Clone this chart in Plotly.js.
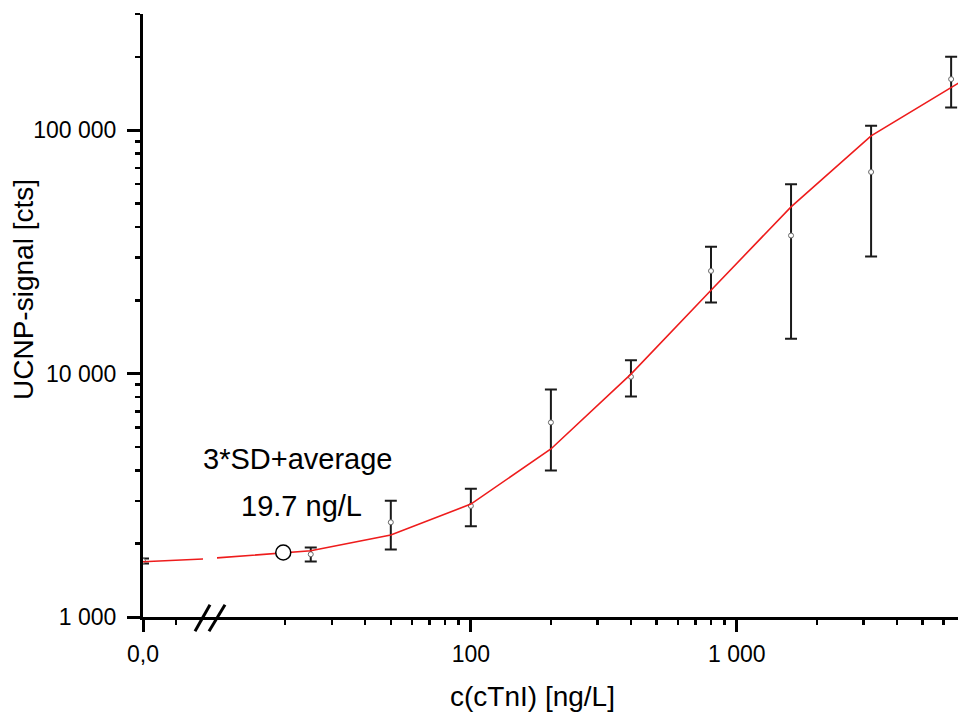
<!DOCTYPE html>
<html>
<head>
<meta charset="utf-8">
<script src="https://cdn.plot.ly/plotly-3.0.1.min.js"></script>
<style>html,body{margin:0;padding:0;background:#fff;}#chart{width:958px;height:722px;}</style>
</head>
<body>
<div id="chart"></div>
<script>
// Measured standards: concentration [ng/L], mean UCNP signal [cts], standard deviation
const conc   = [0,    25,   50,   100,  200,  400,  800,   1600,  3200,  6400];
const signal = [1700, 1810, 2450, 2860, 6300, 9700, 26400, 36900, 67300, 162000];
const sd     = [40,   118,  555,  500,  2300, 1650, 6800,  23000, 37000, 38000];

// Fitted calibration curve
const fitConc   = [0,    10,   19.7, 25,   50,   100,  200,  400,  800,   1600,  3200,  6400,   6820];
const fitSignal = [1686, 1735, 1840, 1870, 2170, 2910, 4900, 9950, 22000, 48400, 94700, 149600, 156000];

// Limit of detection (3*SD + average)
const lodConc = [19.7];
const lodSignal = [1840];

// Axis ticks
const yTickVals = [1000, 10000, 100000];
const yTickText = ['1 000', '10 000', '100 000'];
const yMinorVals = [2000,3000,4000,5000,6000,7000,8000,9000,
                    20000,30000,40000,50000,60000,70000,80000,90000,200000,300000];
const xLeftTickVals = [0];
const xLeftTickText = ['0,0'];
const xLeftMinor = [5];
const xTickVals = [100, 1000];
const xTickText = ['100', '1 000'];
const xMinorVals = [20,30,40,50,60,70,80,90,200,300,400,500,600,700,800,900,2000,3000,4000,5000,6000];

const FONT = 'Liberation Sans, Arial, Helvetica, sans-serif';
const red = '#ee1c1c';

const leftIdx = fitConc.map((v,i)=>i).filter(i => fitConc[i] <= 10);
const rightIdx = fitConc.map((v,i)=>i).filter(i => fitConc[i] >= 10);

const errStyle = {type:'data', visible:true, thickness:2, width:6, color:'#1a1a1a'};
const markerStyle = {symbol:'circle', size:5, color:'#ffffff', line:{color:'#666666', width:1}};

const traces = [
  {x:[conc[0]], y:[signal[0]], xaxis:'x', yaxis:'y', type:'scatter', mode:'markers',
   error_y:Object.assign({array:[sd[0]]}, errStyle), marker:markerStyle, cliponaxis:false, hoverinfo:'skip'},
  {x:conc.slice(1), y:signal.slice(1), xaxis:'x2', yaxis:'y', type:'scatter', mode:'markers',
   error_y:Object.assign({array:sd.slice(1)}, errStyle), marker:markerStyle, cliponaxis:false, hoverinfo:'skip'},
  {x:leftIdx.map(i=>fitConc[i]), y:leftIdx.map(i=>fitSignal[i]), xaxis:'x', yaxis:'y',
   type:'scatter', mode:'lines', line:{color:red, width:1.6}, hoverinfo:'skip'},
  {x:rightIdx.map(i=>fitConc[i]), y:rightIdx.map(i=>fitSignal[i]), xaxis:'x2', yaxis:'y',
   type:'scatter', mode:'lines', line:{color:red, width:1.6}, hoverinfo:'skip'},
  {x:lodConc, y:lodSignal, xaxis:'x2', yaxis:'y', type:'scatter', mode:'markers',
   marker:{symbol:'circle', size:15, color:'#ffffff', line:{color:'#000000', width:1.5}}, cliponaxis:false, hoverinfo:'skip'}
];

const axisCommon = {
  showline:true, linewidth:3, linecolor:'#000', showgrid:false, zeroline:false,
  ticks:'outside', tickwidth:3, tickcolor:'#000', tickfont:{family:FONT, size:23, color:'#000'},
  automargin:false, fixedrange:true
};

const PW = 815; // plot width px
const px = p => (p - 143) / PW;
const PH = 603.5;
const py = p => (617.3 - p) / PH;

const layout = {
  width:958, height:722,
  margin:{l:143, r:0, t:14, b:105, pad:0},
  paper_bgcolor:'#fff', plot_bgcolor:'#fff',
  showlegend:false,
  font:{family:FONT, color:'#000'},
  xaxis:Object.assign({}, axisCommon, {
    domain:[0, px(203)], range:[0, 9.1], anchor:'y',
    tickmode:'array', tickvals:xLeftTickVals, ticktext:xLeftTickText, ticklen:12, ticklabelstandoff:2,
    minor:{tickmode:'array', tickvals:xLeftMinor, ticks:'outside', ticklen:5, tickwidth:2.5, tickcolor:'#000', showgrid:false}
  }),
  xaxis2:Object.assign({}, axisCommon, {
    type:'log', domain:[px(217), 1], range:[Math.log10(11.1), 3.832], anchor:'y',
    tickmode:'array', tickvals:xTickVals, ticktext:xTickText, ticklen:12, ticklabelstandoff:2,
    minor:{tickmode:'array', tickvals:xMinorVals, ticks:'outside', ticklen:5, tickwidth:2.5, tickcolor:'#000', showgrid:false}
  }),
  yaxis:Object.assign({}, axisCommon, {
    type:'log', range:[3, Math.log10(300000)], anchor:'x', domain:[0,1],
    tickmode:'array', tickvals:yTickVals, ticktext:yTickText, ticklen:13, ticklabelstandoff:6,
    minor:{tickmode:'array', tickvals:yMinorVals, ticks:'outside', ticklen:5, tickwidth:2.5, tickcolor:'#000', showgrid:false}
  }),
  shapes:[
    {type:'line', xref:'paper', yref:'paper', x0:px(203), x1:px(217), y0:py(618.8), y1:py(618.8), line:{color:'#000', width:3}},
    {type:'line', xref:'paper', yref:'paper', x0:px(195), x1:px(210), y0:py(631.5), y1:py(605), line:{color:'#000', width:3}},
    {type:'line', xref:'paper', yref:'paper', x0:px(209), x1:px(225), y0:py(631.5), y1:py(605), line:{color:'#000', width:3}}
  ],
  annotations:[
    {text:'3*SD+average', xref:'paper', yref:'paper', x:px(297), y:py(459), xanchor:'center', yanchor:'middle',
     showarrow:false, font:{family:FONT, size:29, color:'#000'}},
    {text:'19.7 ng/L', xref:'paper', yref:'paper', x:px(301), y:py(506), xanchor:'center', yanchor:'middle',
     showarrow:false, font:{family:FONT, size:29, color:'#000'}},
    {text:'c(cTnI) [ng/L]', xref:'paper', yref:'paper', x:px(532), y:py(697), xanchor:'center', yanchor:'middle',
     showarrow:false, font:{family:FONT, size:28, color:'#000'}},
    {text:'UCNP-signal [cts]', xref:'paper', yref:'paper', x:px(24), y:py(290), xanchor:'center', yanchor:'middle',
     textangle:-90, showarrow:false, font:{family:FONT, size:28, color:'#000'}}
  ]
};

Plotly.newPlot('chart', traces, layout, {staticPlot:true, displayModeBar:false});
</script>
</body>
</html>
